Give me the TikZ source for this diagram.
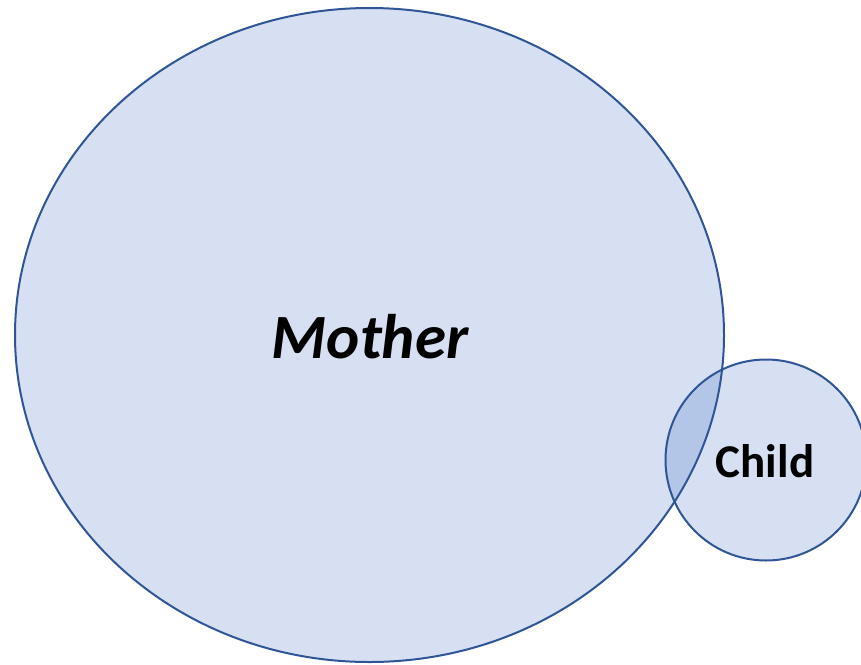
\documentclass[tikz,border=0pt]{standalone}
\usepackage{fontspec}
\setmainfont{Carlito}
\definecolor{fillblue}{HTML}{D6E0F2}
\definecolor{overlapblue}{HTML}{B4C6E7}
\definecolor{lineblue}{HTML}{2F5597}
\begin{document}
\begin{tikzpicture}[x=1pt,y=-1pt,
  setshape/.style={fill=fillblue},
  setline/.style={draw=lineblue,line width=2pt}]
\useasboundingbox (0,0) rectangle (861,664);
\coordinate (mc) at (369.5,335);
\coordinate (cc) at (766,460);
\fill[setshape] (mc) ellipse [x radius=354.5, y radius=327];
\fill[setshape] (cc) circle [radius=100.5];
\begin{scope}
  \clip (mc) ellipse [x radius=354.5, y radius=327];
  \fill[overlapblue] (cc) circle [radius=100.5];
\end{scope}
\draw[setline] (mc) ellipse [x radius=354.5, y radius=327];
\draw[setline] (cc) circle [radius=100.5];
\node[font=\fontsize{63}{66}\selectfont\bfseries\itshape] (mother) at (370,337) {Mother};
\node[font=\fontsize{47}{50}\selectfont\bfseries] (child) at (765,461) {Child};
\end{tikzpicture}
\end{document}
